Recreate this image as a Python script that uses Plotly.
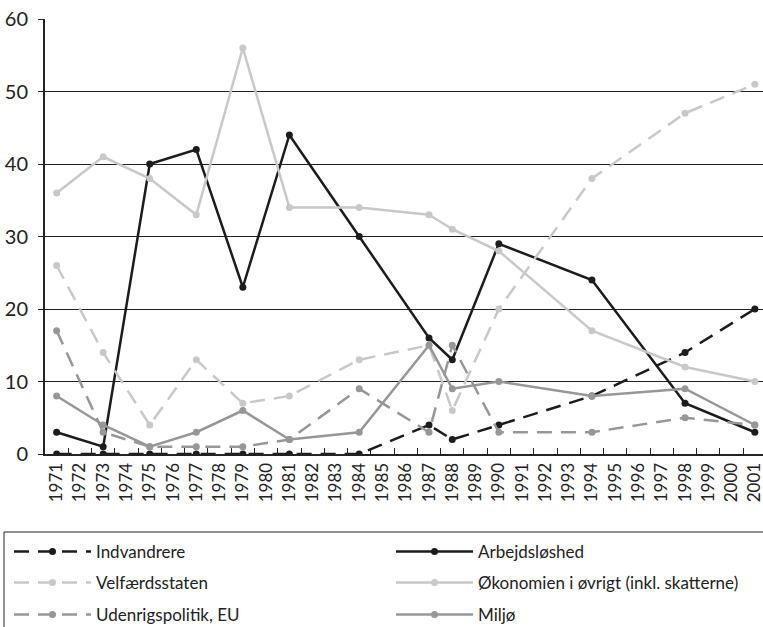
import plotly.graph_objects as go

all_years = [str(y) for y in range(1971, 2002)]
survey_years = ["1971", "1973", "1975", "1977", "1979", "1981", "1984",
                "1987", "1988", "1990", "1994", "1998", "2001"]

indvandrere = [0, 0, 0, 0, 0, 0, 0, 4, 2, 4, 8, 14, 20]
arbejdsloshed = [3, 1, 40, 42, 23, 44, 30, 16, 13, 29, 24, 7, 3]
velfaerd = [26, 14, 4, 13, 7, 8, 13, 15, 6, 20, 38, 47, 51]
okonomien = [36, 41, 38, 33, 56, 34, 34, 33, 31, 28, 17, 12, 10]
udenrigs = [17, 3, 1, 1, 1, 2, 9, 3, 15, 3, 3, 5, 4]
miljo = [8, 4, 1, 3, 6, 2, 3, 15, 9, 10, 8, 9, 4]

names = ["Indvandrere", "Arbejdsløshed", "Velfærdsstaten",
         "Økonomien i øvrigt (inkl. skatterne)", "Udenrigspolitik, EU", "Miljø"]
series = [indvandrere, arbejdsloshed, velfaerd, okonomien, udenrigs, miljo]
colors = ["#1c1c1c", "#1c1c1c", "#c8c8c8", "#c8c8c8", "#979797", "#979797"]
dashes = ["15px,9px", "solid", "15px,9px", "solid", "15px,9px", "solid"]
legend_ids = ["legend", "legend", "legend2", "legend2", "legend3", "legend3"]

fig = go.Figure()
for n, s, c, d, lg in zip(names, series, colors, dashes, legend_ids):
    fig.add_trace(go.Scatter(
        x=survey_years, y=s, name=n, mode="lines+markers",
        line=dict(color=c, width=2.5, dash=d),
        marker=dict(color=c, size=7),
        legend=lg,
    ))

L, PW = 45, 718
plot_bottom, plot_h = 454, 435
def py(pix):
    return (plot_bottom - pix) / plot_h
def px(pix):
    return (pix - L) / PW

leg_common = dict(
    orientation="h", x=px(9), xanchor="left", yanchor="middle",
    entrywidth=290, entrywidthmode="pixels", itemwidth=77,
    borderwidth=0, bgcolor="rgba(0,0,0,0)",
    font=dict(size=17, color="#222222"),
)

fig.update_layout(
    width=763, height=627,
    margin=dict(l=L, r=0, t=19, b=173, autoexpand=False),
    plot_bgcolor="white", paper_bgcolor="white",
    font=dict(family="Lato", size=17, color="#222222"),
    showlegend=True,
    legend=dict(y=py(552), **leg_common),
    legend2=dict(y=py(583), **leg_common),
    legend3=dict(y=py(615), **leg_common),
    shapes=[dict(type="rect", xref="paper", yref="paper",
                 x0=px(4), x1=1.05, y0=py(532), y1=py(640),
                 line=dict(color="#222222", width=1))],
    xaxis=dict(
        type="category", categoryorder="array", categoryarray=all_years,
        tickvals=all_years, ticktext=all_years,
        range=[-0.5, 30.35], tickangle=-90,
        tickson="boundaries", ticks="inside", ticklen=6, tickcolor="#222222",
        showline=True, linecolor="#222222", linewidth=2,
        showgrid=False, tickfont=dict(size=17),
    ),
    yaxis=dict(
        range=[0, 60], tickvals=[0, 10, 20, 30, 40, 50, 60],
        showgrid=True, gridcolor="#222222", gridwidth=1,
        showline=True, linecolor="#222222", linewidth=2,
        ticks="outside", ticklen=5, tickcolor="#222222",
        ticklabelstandoff=6,
        zeroline=False, tickfont=dict(size=20),
    ),
)

fig.write_html("out.html", config={"displayModeBar": False},
               post_script="document.body.style.margin='0';document.body.style.overflow='hidden';")
